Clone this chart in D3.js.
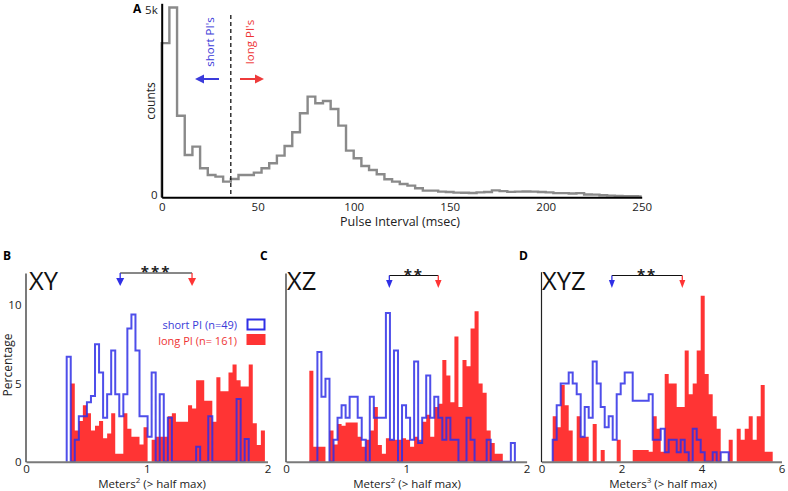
<!DOCTYPE html>
<html><head><meta charset="utf-8">
<script src="https://cdn.jsdelivr.net/npm/d3@7"></script>
<style>
body{margin:0;background:#fff}
svg{display:block}
text{font-family:"Open Sans",sans-serif}
</style>
</head><body>
<svg id="c" width="788" height="491"></svg>
<script>
// ---------------- DATA ----------------
// Panel A: pulse-interval histogram (4 ms bins, counts)
const piBinWidth = 4;
const piCounts = [4100,5050,2170,1126,1348,771,594,550,417,488,594,594,656,771,904,1108,1365,1729,2234,2677,
  2500,2562,2350,1906,1241,1037,833,727,612,479,417,355,310,240,177,177,150,140,125,120,
  115,130,140,185,165,145,150,155,150,140,130,110,110,100,110,75,70,55,45,35,30,30,20];
const piTicks = [0,50,100,150,200,250];
const piThreshold = 36;

// Panel B: XY area (Meters^2), percentage per bin
const bStart = 0.337, bWidth = 0.0335;
const bShort = [6.7,0,1.4,2.9,2.9,3.8,4.2,7.5,5.7,2.8,4.3,7.1,4.3,2.9,4.3,8.5,9.4,7.1,2.9,2.9,
  1.6,5.7,0,4.3,0,2.8,0,0,0,0,0,0,0.96,0,0,2.9,0,0,0,0,0,0,4.0,0,1.45];
const bLong = [0,5.0,2.0,2.6,3.6,3.1,2.0,2.3,2.6,1.5,1.8,3.1,0.5,0.5,3.1,2.1,1.6,1.6,1.1,2.2,
  0,1.4,1.6,1.6,1.6,2.9,3.1,2.55,2.55,2.55,3.6,3.4,5.2,5.2,3.9,3.9,2.55,5.4,4.5,4.5,
  5.7,6.2,5.2,4.8,4.8,6.2,2.45,1.06,2.0];
const bMeans = [0.78, 1.375];

// Panel C: XZ area (Meters^2)
const cStart = 0.194, cWidth = 0.0335;
const cShort = [0,0,7.0,4.15,5.3,0,1.4,2.8,3.6,2.8,4.15,4.15,2.8,1.4,0,4.15,2.8,2.8,2.8,9.5,
  1.4,7.1,0,3.6,2.8,1.4,6.4,1.2,2.8,5.5,2.8,4.15,2.8,1.4,2.8,1.4,1.4,0,0,2.8,
  1.4,0,0,0,1.4,0,0,0,0,0,1.2];
const cLong = [5.8,0.96,0.96,0.96,0,2.0,1.1,2.4,2.3,2.5,2.5,2.5,1.6,0.96,1.4,2.0,3.5,1.06,0.5,1.5,
  1.4,1.4,1.4,1.5,1.4,0.96,1.6,1.4,2.55,3.0,1.6,3.5,3.7,6.5,5.5,3.8,8.0,3.5,6.5,6.1,
  8.5,9.6,5.0,4.4,2.0,1.2,0.5,0.5];
const cMeans = [0.859, 1.266];

// Panel D: XYZ volume (Meters^3)
const dStart = 0.28, dWidth = 0.1;
const dShort = [1.4,3.6,5.0,5.0,5.7,5.0,4.3,1.6,3.5,2.8,6.4,5.0,3.5,2.2,2.9,1.4,4.3,5.0,5.7,5.7,
  3.9,3.9,3.9,3.9,4.3,1.4,1.4,2.1,0.6,1.4,1.4,0.6,1.4,0.6,0,2.1,1.4,0.6,0,0,
  0.6,0,0.6,0.6];
const dLong = [2.9,2.2,4.9,3.6,2.0,0,2.9,1.6,1.6,0,2.4,0,0.74,0,0,0,1.4,0,0,0,
  0.74,0.74,0.74,0.74,0.64,2.9,2.1,0.64,5.6,5.0,5.0,3.5,3.5,7.1,4.3,5.0,7.1,10.6,5.6,4.3,
  2.9,2.1,0,0,1.4,0,2.1,1.4,2.1,2.9,1.4,2.9,4.9,0.64,0.64];
const dMeans = [1.76, 3.52];

const pctTicks = [0,5,10];
const legendLabels = ["short PI (n=49)", "long PI (n= 161)"];

// ---------------- STYLE ----------------
const BLUE = "#2f2fe6", RED = "#ff3434", BLUE_T = "#3a3ad8", RED_T = "#ee3434";
const svg = d3.select("#c");

function styleAxisText(g, size){
  g.selectAll("text").attr("font-family","'Open Sans',sans-serif").attr("font-size",size).attr("fill","#222");
}

// ---------------- PANEL A ----------------
const xA = d3.scaleLinear().domain([0,250]).range([161.7,641.7]);
const yA = d3.scaleLinear().domain([0,5160]).range([197.3,3.3]);
const gA = svg.append("g");

const ptsA = piCounts.map((c,i)=>[Math.min(i*piBinWidth,250), c]);
ptsA.push([250, piCounts[piCounts.length-1]]);
gA.append("path")
  .attr("d", d3.line().x(d=>xA(d[0])).y(d=>yA(d[1])).curve(d3.curveStepAfter)([[0,0], ...ptsA]))
  .attr("fill","none").attr("stroke","#8a8a8a").attr("stroke-width",2.4);

gA.append("line")
  .attr("x1",xA(piThreshold)).attr("x2",xA(piThreshold))
  .attr("y1",15).attr("y2",yA(0))
  .attr("stroke","#000").attr("stroke-width",1.2).attr("stroke-dasharray","4,3");

const axA = gA.append("g").attr("transform",`translate(0,${yA(0)})`)
  .call(d3.axisBottom(xA).tickValues(piTicks).tickFormat(d3.format("d")).tickSize(0).tickPadding(5.5).tickSizeOuter(0));
axA.select(".domain").attr("stroke","#000").attr("stroke-width",2);
styleAxisText(axA, 11.5);

const ayA = gA.append("g").attr("transform",`translate(${xA(0)},0)`)
  .call(d3.axisLeft(yA).tickValues([0,5000]).tickFormat(d=>d===0?"0":"5k").tickSize(0).tickPadding(4).tickSizeOuter(0));
ayA.select(".domain").attr("stroke","#000").attr("stroke-width",2);
styleAxisText(ayA, 11.5);
ayA.selectAll(".tick").filter(d=>d===0).select("text").attr("dy","0.1em");

gA.append("text").attr("x",400).attr("y",226).attr("text-anchor","middle")
  .attr("font-size",12.5).attr("fill","#222").text("Pulse Interval (msec)");
gA.append("text").attr("transform","translate(155,101) rotate(-90)").attr("text-anchor","middle")
  .attr("font-size",12).attr("fill","#222").text("counts");
gA.append("text").attr("x",133).attr("y",13).attr("font-size",12).attr("font-weight","bold").text("A");

// short / long PI annotations
gA.append("text").attr("transform","translate(214,42) rotate(-90)").attr("text-anchor","middle")
  .attr("font-size",11.5).attr("fill",BLUE_T).text("short PI's");
gA.append("text").attr("transform","translate(254,42) rotate(-90)").attr("text-anchor","middle")
  .attr("font-size",11.5).attr("fill",RED_T).text("long PI's");
function hArrow(x1, x2, y, col){
  const dir = Math.sign(x2-x1);
  gA.append("line").attr("x1",x1).attr("x2",x2-dir*6).attr("y1",y).attr("y2",y)
    .attr("stroke",col).attr("stroke-width",2);
  gA.append("path").attr("d",`M${x2},${y} L${x2-dir*9},${y-4.5} L${x2-dir*9},${y+4.5} Z`).attr("fill",col);
}
hArrow(219, 195, 79, "#3b3bdb");
hArrow(240, 264, 79, "#ee3b3b");

// ---------------- PANELS B, C, D ----------------
const yScale = d3.scaleLinear().domain([0,12.05]).range([461.7,273]);

const panels = [
  {letter:"B", lx:3, title:"XY", tx:29, x:d3.scaleLinear().domain([0,2]).range([26,267.5]), ticks:[0,1,2],
   start:bStart, w:bWidth, s:bShort, l:bLong, means:bMeans, stars:"***", sy:273, tip:286, aw:8,
   unit:"2", labX:152, spineTop:273, yTicks:true, legend:true},
  {letter:"C", lx:260, title:"XZ", tx:287, x:d3.scaleLinear().domain([0,2]).range([286,526.6]), ticks:[0,1,2],
   start:cStart, w:cWidth, s:cShort, l:cLong, means:cMeans, stars:"**", sy:275.5, tip:288, aw:6.5,
   unit:"2", labX:407, spineTop:273, yTicks:false, legend:false},
  {letter:"D", lx:519, title:"XYZ", tx:542, x:d3.scaleLinear().domain([0,6]).range([541.5,781.5]), ticks:[0,2,4,6],
   start:dStart, w:dWidth, s:dShort, l:dLong, means:dMeans, stars:"**", sy:275.5, tip:288, aw:6,
   unit:"3", labX:663, spineTop:271.7, yTicks:false, legend:false}
];

panels.forEach(p=>{
  const g = svg.append("g");
  const x = p.x, y = yScale;
  // red filled histogram
  const lp = p.l.map((v,i)=>[p.start+i*p.w, v]);
  lp.push([p.start+p.l.length*p.w, 0]);
  g.append("path")
    .attr("d", d3.area().x(d=>x(d[0])).y0(y(0)).y1(d=>y(d[1])).curve(d3.curveStepAfter)(lp))
    .attr("fill",RED);
  // blue outline histogram
  const sp = p.s.map((v,i)=>[p.start+i*p.w, v]);
  sp.push([p.start+p.s.length*p.w, 0]);
  g.append("path")
    .attr("d", d3.line().x(d=>x(d[0])).y(d=>y(d[1])).curve(d3.curveStepAfter)([[p.start,0], ...sp]))
    .attr("fill","none").attr("stroke",BLUE).attr("stroke-width",2).attr("stroke-opacity",0.85);

  // x axis
  const ax = g.append("g").attr("transform",`translate(0,${y(0)})`)
    .call(d3.axisBottom(x).tickValues(p.ticks).tickFormat(d3.format("d")).tickSize(0).tickPadding(3).tickSizeOuter(0));
  ax.select(".domain").attr("stroke","#7a7a7a").attr("stroke-width",2);
  styleAxisText(ax, 11.5);

  // y spine
  const ay = g.append("g").attr("transform",`translate(${x(0)-0.5},0)`)
    .call(d3.axisLeft(y.copy().range([461.7,p.spineTop]).domain([0, 12.05*(461.7-p.spineTop)/(461.7-273)]))
      .tickValues(p.yTicks ? pctTicks : []).tickSize(0).tickPadding(4).tickSizeOuter(0));
  ay.select(".domain").attr("stroke","#222").attr("stroke-width",1.2);
  styleAxisText(ay, 11.5);

  // labels
  const xl = g.append("text").attr("x",p.labX).attr("y",487.5).attr("text-anchor","middle")
    .attr("font-size",11.5).attr("fill","#222");
  xl.append("tspan").text("Meters");
  xl.append("tspan").attr("font-size",8).attr("dy",-5).text(p.unit);
  xl.append("tspan").attr("dy",5).text(" (> half max)");

  g.append("text").attr("x",p.lx).attr("y",260).attr("font-size",12).attr("font-weight","bold").text(p.letter);
  g.append("text").attr("x",p.tx).attr("y",290).attr("font-size",25.5).attr("fill","#111").text(p.title);

  // significance bracket
  const x1 = x(p.means[0]), x2 = x(p.means[1]);
  g.append("line").attr("x1",x1).attr("x2",x2).attr("y1",p.sy).attr("y2",p.sy).attr("stroke","#111").attr("stroke-width",1);
  [[x1,BLUE],[x2,RED]].forEach(([xx,col])=>{
    g.append("line").attr("x1",xx).attr("x2",xx).attr("y1",p.sy).attr("y2",p.tip-6)
      .attr("stroke",col).attr("stroke-width",1.3);
    g.append("path").attr("d",`M${xx},${p.tip} L${xx-p.aw/2},${p.tip-8} L${xx+p.aw/2},${p.tip-8} Z`).attr("fill",col);
  });
  g.append("text").attr("x",(x1+x2)/2).attr("y",p.sy+4).attr("text-anchor","middle")
    .attr("font-size",15).attr("font-weight","bold").attr("letter-spacing",2).attr("fill","#222").text(p.stars);

  if(p.yTicks){
    g.append("text").attr("transform","translate(12,365) rotate(-90)").attr("text-anchor","middle")
      .attr("font-size",12).attr("fill","#222").text("Percentage");
  }
  if(p.legend){
    g.append("text").attr("x",237).attr("y",328.5).attr("text-anchor","end").attr("font-size",11)
      .attr("fill",BLUE_T).text(legendLabels[0]);
    g.append("text").attr("x",237).attr("y",344.5).attr("text-anchor","end").attr("font-size",11)
      .attr("fill",RED_T).text(legendLabels[1]);
    g.append("rect").attr("x",247.5).attr("y",319.5).attr("width",17).attr("height",10)
      .attr("fill","#fff").attr("stroke",BLUE).attr("stroke-width",2);
    g.append("rect").attr("x",246.5).attr("y",334).attr("width",19).attr("height",11).attr("fill",RED);
  }
});
</script>
</body></html>
